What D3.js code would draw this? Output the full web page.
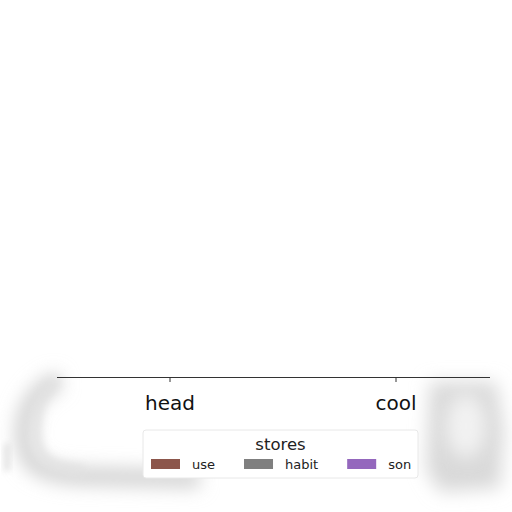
<!DOCTYPE html>
<html>
<head>
<meta charset="utf-8">
<script src="https://cdn.jsdelivr.net/npm/d3@7"></script>
<style>
  body { margin: 0; background: #fff; }
  svg { display: block; font-family: "DejaVu Sans", sans-serif; }
</style>
</head>
<body>
<div id="chart"></div>
<script>
// Chart data
const categories = ['head', 'cool'];
const seriesNames = ['use', 'habit', 'son'];
const seriesColors = ['#8c564b', '#7f7f7f', '#9467bd'];
// no bars are visible above the axis: every value reads as zero
const useValues = [0, 0];
const habitValues = [0, 0];
const sonValues = [0, 0];
const legendTitle = 'stores';

const width = 512, height = 512;
const margin = { top: 20, right: 22, bottom: 135, left: 57 };
const baseY = height - margin.bottom;

const svg = d3.select('#chart').append('svg')
    .attr('width', width)
    .attr('height', height);

// soft grey smudge round the lower part of the picture
const defs = svg.append('defs');
[['blur9', 9], ['blur5', 5], ['blur3', 3]].forEach(([id, s]) => {
    defs.append('filter').attr('id', id)
        .attr('x', '-40%').attr('y', '-40%').attr('width', '180%').attr('height', '180%')
        .append('feGaussianBlur').attr('stdDeviation', s);
});

const smudge = svg.append('g');
smudge.append('path')
    .attr('d', 'M60,380 C40,388 24,404 24,434 C24,462 36,474 80,476 L200,479')
    .attr('fill', 'none')
    .attr('stroke', '#d2d2d2')
    .attr('stroke-width', 18)
    .attr('filter', 'url(#blur9)');
smudge.append('path')
    .attr('d', 'M58,380 C44,388 36,400 36,430 C36,456 46,468 84,470')
    .attr('fill', 'none')
    .attr('stroke', '#e2e2e2')
    .attr('stroke-width', 8)
    .attr('filter', 'url(#blur5)');
smudge.append('path')
    .attr('d', 'M430,382 L496,382 L504,430 L500,488 L440,492 L426,470 Z')
    .attr('fill', '#d9d9d9')
    .attr('filter', 'url(#blur9)');
smudge.append('ellipse')
    .attr('cx', 466).attr('cy', 426).attr('rx', 20).attr('ry', 32)
    .attr('fill', '#f2f2f2')
    .attr('filter', 'url(#blur9)');
smudge.append('path')
    .attr('d', 'M4,445 L10,442 L10,470 L4,472 Z')
    .attr('fill', '#e2e2e2')
    .attr('filter', 'url(#blur3)');

// Scales
const x = d3.scaleBand()
    .domain(categories)
    .range([margin.left, margin.left + 452])
    .padding(0);

const x1 = d3.scaleBand()
    .domain(seriesNames)
    .range([0, x.bandwidth()])
    .padding(0.1);

const y = d3.scaleLinear()
    .domain([0, 1])
    .range([baseY, margin.top]);

const color = d3.scaleOrdinal()
    .domain(seriesNames)
    .range(seriesColors);

const table = categories.map((c, i) => ({
    category: c,
    values: [
        { key: 'use', value: useValues[i] },
        { key: 'habit', value: habitValues[i] },
        { key: 'son', value: sonValues[i] }
    ]
}));

// Bars
svg.append('g')
    .selectAll('g')
    .data(table)
    .join('g')
    .attr('transform', d => `translate(${x(d.category)},0)`)
    .selectAll('rect')
    .data(d => d.values)
    .join('rect')
    .attr('x', d => x1(d.key))
    .attr('y', d => y(d.value))
    .attr('width', x1.bandwidth())
    .attr('height', d => y(0) - y(d.value))
    .attr('fill', d => color(d.key));

// Baseline
svg.append('line')
    .attr('x1', margin.left)
    .attr('x2', width - margin.right)
    .attr('y1', y(0) + 0.5)
    .attr('y2', y(0) + 0.5)
    .attr('stroke', '#333')
    .attr('stroke-width', 1.2);

// X axis
const xAxis = d3.axisBottom(x)
    .tickSize(5)
    .tickPadding(14);

const gx = svg.append('g')
    .attr('transform', `translate(0,${y(0)})`)
    .call(xAxis);
gx.select('.domain').remove();
gx.selectAll('.tick line').attr('stroke', '#333');
gx.selectAll('.tick text')
    .attr('fill', '#111')
    .style('font-size', '20px')
    .style('font-family', '"DejaVu Sans", sans-serif');

// Legend
const legend = svg.append('g').attr('transform', 'translate(143,430)');
legend.append('rect')
    .attr('width', 275)
    .attr('height', 48)
    .attr('rx', 3)
    .attr('fill', '#fff')
    .attr('stroke', '#e8e8e8');

legend.append('text')
    .attr('x', 137.5)
    .attr('y', 20)
    .attr('text-anchor', 'middle')
    .attr('fill', '#222')
    .style('font-size', '16.5px')
    .text(legendTitle);

// entries laid out like matplotlib columns: patch, gap, label, column spacing
let cursor = 8;
seriesNames.forEach(name => {
    const g = legend.append('g').attr('transform', `translate(${cursor},29)`);
    g.append('rect')
        .attr('width', 29)
        .attr('height', 10)
        .attr('fill', color(name));
    const t = g.append('text')
        .attr('x', 41)
        .attr('y', 10)
        .attr('fill', '#222')
        .style('font-size', '13px')
        .text(name);
    cursor += 41 + t.node().getComputedTextLength() + 29;
});
</script>
</body>
</html>
